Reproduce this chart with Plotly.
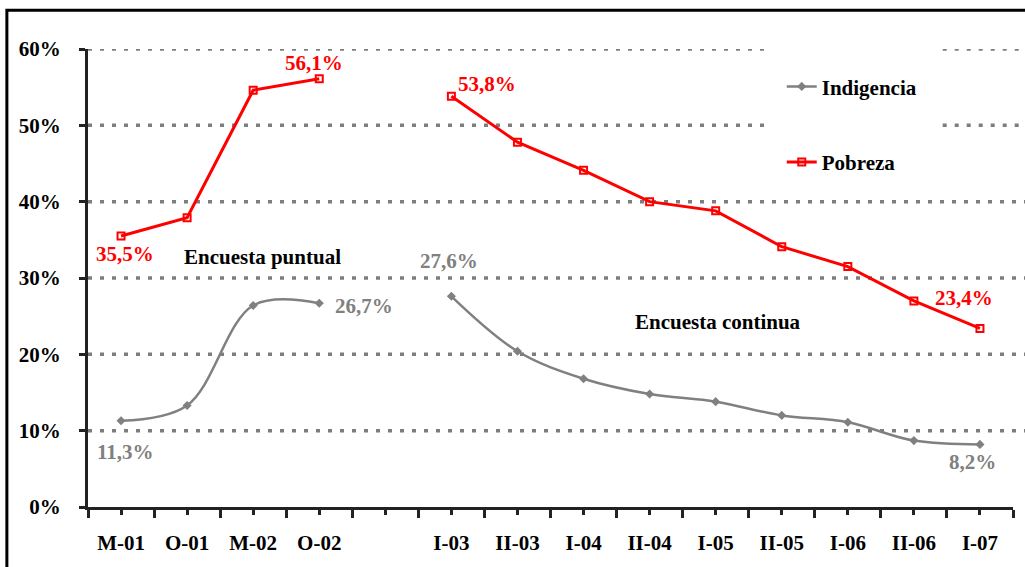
import plotly.graph_objects as go

categories = ["M-01", "O-01", "M-02", "O-02", "", "I-03", "II-03", "I-04", "II-04",
              "I-05", "II-05", "I-06", "II-06", "I-07"]
pobreza = [35.5, 37.9, 54.6, 56.1, None, 53.8, 47.8, 44.1, 40.0, 38.8, 34.1, 31.5, 27.0, 23.4]
indigencia = [11.3, 13.3, 26.4, 26.7, None, 27.6, 20.4, 16.8, 14.8, 13.8, 12.0, 11.1, 8.7, 8.2]
y_ticks = [0, 10, 20, 30, 40, 50, 60]
y_labels = ["0%", "10%", "20%", "30%", "40%", "50%", "60%"]

# labelled points: (series, index, text, xshift, yshift)
labels = [
    ("p", 0, "35,5%", 4, -18),
    ("p", 3, "56,1%", -5, 16),
    ("p", 5, "53,8%", 36, 12),
    ("p", 13, "23,4%", -16, 30),
    ("i", 5, "27,6%", -2, 35),
    ("i", 3, "26,7%", 45, -3),
    ("i", 0, "11,3%", 4, -31),
    ("i", 13, "8,2%", -7, -18),
]

RED = "#ff0000"
GRAY = "#808080"
FONT = "Liberation Serif"
FS = 21

x = list(range(len(categories)))

fig = go.Figure()
fig.add_trace(go.Scatter(
    x=x, y=indigencia, name="Indigencia", mode="lines+markers",
    line=dict(color=GRAY, width=2.5, shape="spline", smoothing=1.0),
    marker=dict(symbol="diamond", size=7, color=GRAY),
    connectgaps=False, legend="legend",
))
fig.add_trace(go.Scatter(
    x=x, y=pobreza, name="Pobreza", mode="lines+markers",
    line=dict(color=RED, width=3),
    marker=dict(symbol="square-open", size=7, color=RED, line=dict(width=2, color=RED)),
    connectgaps=False, legend="legend2",
))

annotations = []
for s, i, t, dx, dy in labels:
    vals = pobreza if s == "p" else indigencia
    annotations.append(dict(
        x=x[i], y=vals[i], text=t, showarrow=False, xshift=dx, yshift=dy,
        font=dict(family=FONT, size=FS, weight="bold", color=RED if s == "p" else GRAY),
    ))
annotations.append(dict(x=2.14, y=32.7, text="Encuesta puntual", showarrow=False,
                        font=dict(family=FONT, size=FS, weight="bold", color="black")))
annotations.append(dict(x=9.03, y=24.2, text="Encuesta continua", showarrow=False,
                        font=dict(family=FONT, size=FS, weight="bold", color="black")))

# dotted gridlines (interrupted behind the legend at 50% and 60%)
shapes = []
grid_style = dict(color="#7d7d7d", width=3.5, dash="4px,8px")
gap = (0.733, 0.924)
for v in y_ticks[1:]:
    if v >= 50:
        segs = [(0.0, gap[0]), (gap[1], 1.02)]
    else:
        segs = [(0.0, 1.02)]
    for a, b in segs:
        shapes.append(dict(type="line", xref="paper", yref="y", x0=a, x1=b, y0=v, y1=v,
                           line=grid_style, layer="below"))
# frame
shapes.append(dict(type="rect", xref="paper", yref="paper", x0=-0.0877, x1=1.05,
                   y0=-0.2, y1=1.0846, line=dict(color="black", width=3), layer="above"))

legend_font = dict(family=FONT, size=FS, weight="bold", color="black")
fig.update_layout(
    width=1025, height=567,
    margin=dict(l=88, r=12, t=49, b=57),
    paper_bgcolor="white", plot_bgcolor="white",
    showlegend=True,
    legend=dict(x=0.750, y=0.9176, xanchor="left", yanchor="middle",
                bgcolor="rgba(0,0,0,0)", font=legend_font),
    legend2=dict(x=0.750, y=0.7527, xanchor="left", yanchor="middle",
                 bgcolor="rgba(0,0,0,0)", font=legend_font),
    xaxis=dict(
        range=[-0.5, len(categories) - 0.5], tickmode="array", tickvals=x, ticktext=categories,
        showgrid=False, zeroline=False, showline=True, linecolor="#222", linewidth=3,
        ticks="outside", ticklen=5, tickwidth=3, tickcolor="#222",
        tickfont=dict(family=FONT, size=FS, weight="bold", color="black"),
        ticklabelstandoff=10,
        minor=dict(tickmode="array", tickvals=[i - 0.5 for i in range(len(categories) + 1)],
                   ticks="outside", ticklen=8, tickwidth=3, tickcolor="#222", showgrid=False),
    ),
    yaxis=dict(
        range=[0, 60], tickmode="array", tickvals=y_ticks, ticktext=y_labels,
        showgrid=False, zeroline=False, showline=True, linecolor="#222", linewidth=3,
        ticks="outside", ticklen=6, tickwidth=3, tickcolor="#222",
        tickfont=dict(family=FONT, size=FS, weight="bold", color="black"),
        ticklabelstandoff=14,
    ),
    annotations=annotations,
    shapes=shapes,
)

fig.write_html("out.html", config={"displayModeBar": False},
               post_script="document.body.style.margin='0px';")
